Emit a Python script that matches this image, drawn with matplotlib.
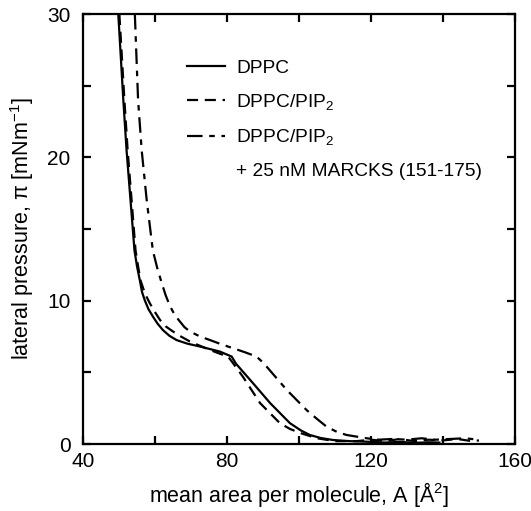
"""Langmuir isotherms: DPPC, DPPC/PIP2 and DPPC/PIP2 + MARCKS peptide."""

import matplotlib
matplotlib.use("Agg")
import matplotlib.pyplot as plt
from matplotlib.lines import Line2D
from matplotlib.ticker import MultipleLocator, FuncFormatter

plt.rcParams["font.family"] = ["Liberation Sans", "DejaVu Sans"]
plt.rcParams["mathtext.fontset"] = "custom"
plt.rcParams["mathtext.rm"] = "Liberation Sans"
plt.rcParams["mathtext.it"] = "Liberation Sans:italic"

# values (area in A^2, pressure in mN/m)
dppc_area = [49.8, 51.2, 52.1, 53.2, 54.3, 55.0, 55.8, 56.4, 57.2, 58.2,
             59.4, 60.7, 62.2, 64.0, 66.0, 69.0, 72.5, 78.0, 81.3, 82.5,
             87.2, 92.0, 97.5, 100.5, 103.0, 106.0, 109.4, 114.0, 118.8,
             124.0, 128.0, 132.0, 136.0, 139.0]
dppc_pi = [30.0, 24.0, 20.5, 17.0, 13.5, 12.4, 11.4, 10.6, 10.0, 9.4,
           8.9, 8.4, 7.95, 7.55, 7.25, 7.0, 6.8, 6.45, 6.1, 5.6,
           4.25, 2.85, 1.45, 0.95, 0.63, 0.42, 0.28, 0.2, 0.16,
           0.1, 0.15, 0.08, 0.12, 0.1]

pip2_area = [50.1, 51.5, 52.4, 53.5, 54.6, 55.3, 56.0, 57.2, 58.6, 60.0,
             61.4, 63.0, 65.0, 67.2, 69.7, 72.5, 75.3, 78.0, 80.3, 81.5,
             84.4, 89.2, 94.7, 97.5, 100.3, 105.0, 110.0, 116.0,
             120.0, 124.0, 128.0, 132.0, 136.0, 140.0, 144.0, 148.0, 150.0]
pip2_pi = [30.0, 24.0, 20.5, 17.0, 13.5, 12.4, 11.4, 10.5, 9.8, 9.2,
           8.65, 8.2, 7.85, 7.5, 7.15, 6.85, 6.56, 6.3, 6.1, 5.7,
           4.7, 2.85, 1.45, 1.05, 0.77, 0.4, 0.2, 0.2,
           0.3, 0.2, 0.35, 0.2, 0.3, 0.25, 0.35, 0.2, 0.25]

marcks_area = [54.4, 55.3, 56.3, 57.7, 59.4, 60.6, 61.9, 63.0, 64.2, 65.5,
               66.9, 68.2, 69.7, 72.5, 75.3, 78.5, 81.7, 85.0, 88.2, 89.5,
               91.0, 96.6, 102.1, 105.0, 107.7, 110.5, 113.2, 118.8, 122.0,
               126.0, 130.0, 134.0, 138.0, 142.0, 146.0, 150.0]
marcks_pi = [30.0, 24.0, 20.5, 17.0, 13.5, 12.3, 11.2, 10.35, 9.6, 9.0,
             8.55, 8.15, 7.85, 7.5, 7.25, 6.95, 6.68, 6.4, 6.1, 5.8,
             5.4, 3.77, 2.37, 1.75, 1.2, 0.85, 0.63, 0.4, 0.3,
             0.35, 0.3, 0.4, 0.3, 0.35, 0.4, 0.3]

labels = ["DPPC", "DPPC/PIP$_2$", "DPPC/PIP$_2$", "+ 25 nM MARCKS (151-175)"]

fig = plt.figure(figsize=(5.31, 5.11), dpi=100)
ax = fig.add_axes([83 / 531, 1 - 444 / 511, 432 / 531, 430 / 511])

lw = 1.6
l1, = ax.plot(dppc_area, dppc_pi, color="black", lw=lw, linestyle="-")
l2, = ax.plot(pip2_area, pip2_pi, color="black", lw=lw, linestyle=(0, (5, 3)))
l3, = ax.plot(marcks_area, marcks_pi, color="black", lw=lw,
              linestyle=(0, (7, 3, 2.5, 3)))
blank = Line2D([], [], color="none")

ax.legend([l1, l2, l3, blank], labels, loc="upper left",
          bbox_to_anchor=(0.2, 0.935), frameon=False, fontsize=13.8,
          handlelength=2.0, handletextpad=0.6, labelspacing=0.8)

ax.set_xlim(40, 160)
ax.set_ylim(0, 30)
ax.xaxis.set_major_locator(MultipleLocator(20))
ax.xaxis.set_major_formatter(
    FuncFormatter(lambda v, _: f"{v:.0f}" if int(round(v)) % 40 == 0 else ""))
ax.yaxis.set_major_locator(MultipleLocator(5))
ax.yaxis.set_major_formatter(
    FuncFormatter(lambda v, _: f"{v:.0f}" if int(round(v)) % 10 == 0 else ""))
ax.tick_params(direction="in", length=6, width=1.6, top=True, right=True,
               labelsize=15)
ax.tick_params(axis="x", pad=6)
ax.tick_params(axis="y", pad=9)
for spine in ax.spines.values():
    spine.set_linewidth(1.6)

ax.set_xlabel("mean area per molecule, A [Å$^2$]", fontsize=15.5, labelpad=6)
ax.set_ylabel("lateral pressure, π [mNm$^{-1}$]", fontsize=15.5, labelpad=8)

fig.savefig("out.png", dpi=100)
